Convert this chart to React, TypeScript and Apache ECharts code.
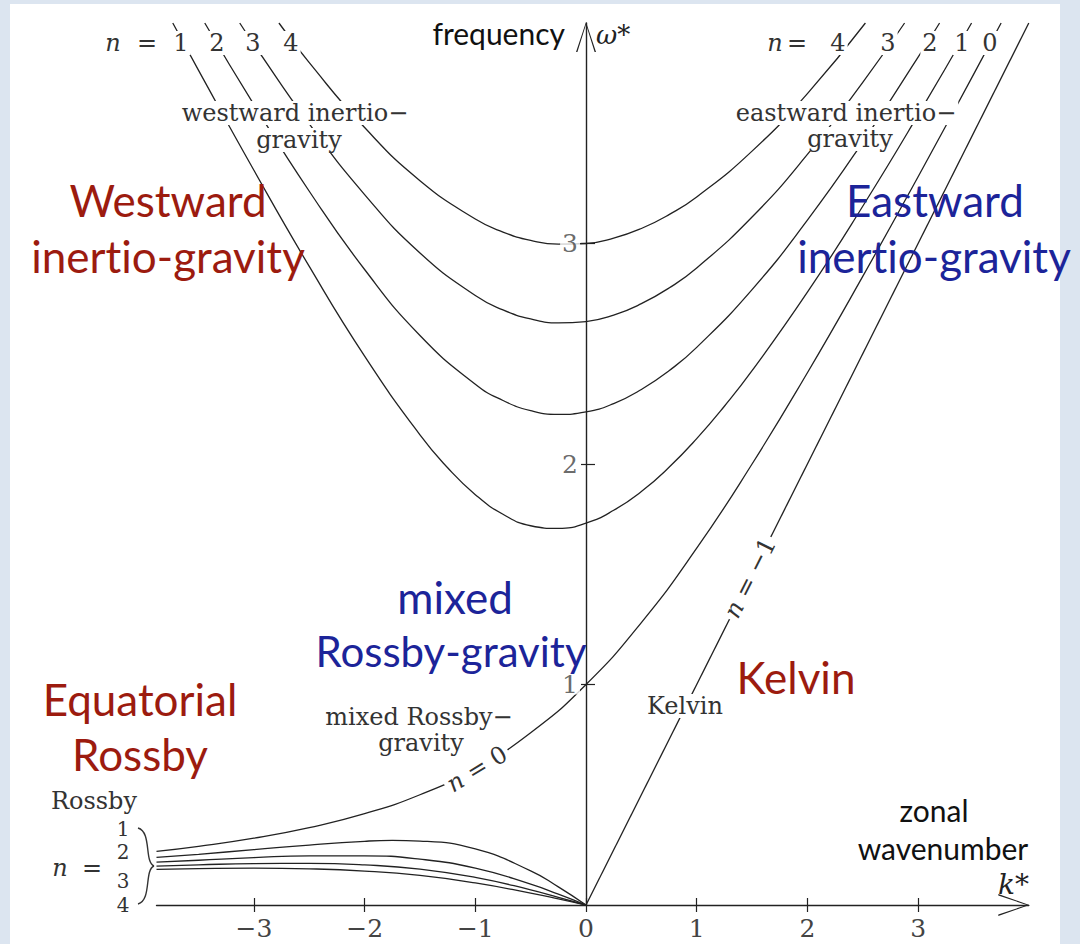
import React, { useEffect, useRef } from 'react';
import * as echarts from 'echarts';

// ---- data: [k*, omega*] ----
const inertioGravityN1 = [[-3.733, 4.0], [-3.5, 3.785], [-3, 3.332], [-2.5, 2.896], [-2, 2.489], [-1.5, 2.132], [-1.25, 1.983], [-1, 1.861], [-0.75, 1.772], [-0.5, 1.72], [-0.25, 1.708], [0, 1.732], [0.25, 1.79], [0.5, 1.875], [0.75, 1.985], [1, 2.115], [1.25, 2.262], [1.5, 2.423], [2, 2.779], [2.5, 3.169], [3, 3.583], [3.483, 4.0]];
const inertioGravityN2 = [[-3.444, 4.0], [-3, 3.63], [-2.5, 3.237], [-2, 2.882], [-1.5, 2.583], [-1, 2.362], [-0.75, 2.288], [-0.5, 2.242], [-0.25, 2.225], [0, 2.236], [0.25, 2.274], [0.5, 2.338], [0.75, 2.423], [1, 2.529], [1.5, 2.791], [2, 3.106], [2.5, 3.46], [3, 3.845], [3.194, 4.0]];
const inertioGravityN3 = [[-3.128, 4.0], [-3, 3.903], [-2.5, 3.542], [-2, 3.222], [-1.5, 2.957], [-1, 2.764], [-0.75, 2.699], [-0.5, 2.658], [-0.25, 2.64], [0, 2.646], [0.25, 2.675], [0.5, 2.727], [0.75, 2.798], [1, 2.889], [1.5, 3.12], [2, 3.404], [2.5, 3.731], [2.878, 4.0]];
const inertioGravityN4 = [[-2.774, 4.0], [-2.5, 3.82], [-2, 3.526], [-1.5, 3.285], [-1, 3.111], [-0.75, 3.052], [-0.5, 3.014], [-0.25, 2.997], [0, 3.0], [0.25, 3.024], [0.5, 3.068], [0.75, 3.131], [1, 3.211], [1.5, 3.419], [2, 3.68], [2.524, 4.0]];
const mixedRossbyGravity = [[-3.88, 0.243], [-3.5, 0.266], [-3, 0.303], [-2.5, 0.351], [-2, 0.414], [-1.5, 0.5], [-1, 0.618], [-0.5, 0.781], [0, 1.0], [0.5, 1.281], [1, 1.618], [1.5, 2.0], [2, 2.414], [2.5, 2.851], [3, 3.303], [3.5, 3.766], [3.75, 4.0]];
const rossbyN1 = [[-3.88, 0.216], [-3.5, 0.23], [-3, 0.251], [-2.5, 0.272], [-2, 0.289], [-1.75, 0.293], [-1.5, 0.29], [-1, 0.254], [-0.5, 0.155], [-0.25, 0.082], [0, 0]];
const rossbyN2 = [[-3.88, 0.194], [-3.5, 0.203], [-3, 0.215], [-2.5, 0.223], [-2, 0.223], [-1.5, 0.208], [-1, 0.167], [-0.5, 0.095], [-0.25, 0.049], [0, 0]];
const rossbyN3 = [[-3.88, 0.176], [-3.5, 0.182], [-3, 0.188], [-2.5, 0.189], [-2, 0.182], [-1.5, 0.163], [-1, 0.125], [-0.5, 0.069], [-0.25, 0.035], [0, 0]];
const rossbyN4 = [[-3.88, 0.162], [-3.5, 0.165], [-3, 0.167], [-2.5, 0.164], [-2, 0.154], [-1.5, 0.134], [-1, 0.1], [-0.5, 0.054], [-0.25, 0.028], [0, 0]];
const kelvin = [[0, 0], [4, 4]];

const xTicks = [-3, -2, -1, 0, 1, 2, 3];
const yTicks = [1, 2, 3];
const xRange = [-3.88, 4.0];
const yRange = [0, 4.0];

const SERIF = '"DejaVu Serif", serif';
const SANS = 'Lato, "Open Sans", sans-serif';
const RED = '#9c1b0f';
const BLUE = '#1c2499';
const INK = '#222';
const LABEL = '#333';
const ZWNJ = '\u200C';

const ARROW_Y = 'path://M10,0 L20,30 L18.6,30 L10,2.6 L1.4,30 L0,30 Z';
const ARROW_X = 'path://M11,0 L22,31 L20.6,31 L11,2.6 L1.4,31 L0,31 Z';

function serifLabel(text: string, x: number, y: number, extra: any = {}) {
  return {
    type: 'text', x, y, z: 100, rotation: extra.rotation || 0,
    style: {
      text, fill: LABEL, font: `${extra.italic ? 'italic ' : ''}${extra.size || 24}px ${SERIF}`,
      align: extra.align || 'center', verticalAlign: 'middle',
      backgroundColor: extra.noBg ? undefined : '#fff', padding: extra.padding || [0, 2],
      rich: extra.rich,
    },
  };
}

function sansLabel(text: string, x: number, y: number, color: string, size = 44, align = 'center') {
  return {
    type: 'text', x, y, z: 90,
    style: { text, fill: color, font: `${size}px ${SANS}`, align, verticalAlign: 'middle' },
  };
}

const italicRich = { i: { font: `italic 24px ${SERIF}`, fill: LABEL } };

function curve(name: string, data: number[][]) {
  return {
    name, type: 'line', data, showSymbol: false, smooth: true, silent: true,
    lineStyle: { color: INK, width: 1.3 }, z: 2, animation: false,
  };
}

export default function App() {
  const ref = useRef<HTMLDivElement>(null);
  useEffect(() => {
    if (!ref.current) return;
    const chart = echarts.init(ref.current, null, { renderer: 'svg' });
    const option: any = {
      animation: false,
      backgroundColor: 'transparent',
      grid: { left: 156.5, right: 51.2, top: 23, bottom: 39, containLabel: false },
      xAxis: [
        {
          type: 'value', min: xRange[0], max: xRange[1], position: 'bottom',
          axisLine: { show: true, onZero: false, lineStyle: { color: INK, width: 1.4 }, symbol: ['none', ARROW_X], symbolSize: [22, 31], symbolOffset: [0, -15] },
          axisTick: { show: true, customValues: xTicks, length: 7, lineStyle: { color: INK, width: 1.2 } },
          axisLabel: {
            show: true, customValues: xTicks, margin: 11, color: '#444', fontFamily: SERIF, fontSize: 25,
            formatter: (v: number) => (v < 0 ? '\u2212' + Math.abs(v) : String(v)),
          },
          splitLine: { show: false },
        },
        {
          type: 'value', min: xRange[0], max: xRange[1], position: 'bottom',
          axisLine: { show: false, onZero: false },
          axisTick: { show: true, inside: true, customValues: xTicks, length: 7, lineStyle: { color: INK, width: 1.2 } },
          axisLabel: { show: false },
          splitLine: { show: false },
        },
      ],
      yAxis: [
        {
          type: 'value', min: yRange[0], max: yRange[1], position: 'left',
          axisLine: { show: true, onZero: true, lineStyle: { color: INK, width: 1.4 }, symbol: ['none', ARROW_Y], symbolSize: [20, 30], symbolOffset: [0, -14] },
          axisTick: { show: true, customValues: yTicks, length: 5, lineStyle: { color: INK, width: 1.2 } },
          axisLabel: { show: false },
          splitLine: { show: false },
        },
        {
          type: 'value', min: yRange[0], max: yRange[1], position: 'left',
          axisLine: { show: false, onZero: true },
          axisTick: { show: true, inside: true, customValues: yTicks, length: 9, lineStyle: { color: INK, width: 1.2 } },
          axisLabel: { show: false },
          splitLine: { show: false },
        },
      ],
      series: [
        curve('inertio-gravity n=1', inertioGravityN1),
        curve('inertio-gravity n=2', inertioGravityN2),
        curve('inertio-gravity n=3', inertioGravityN3),
        curve('inertio-gravity n=4', inertioGravityN4),
        curve('mixed Rossby-gravity n=0', mixedRossbyGravity),
        curve('Rossby n=1', rossbyN1),
        curve('Rossby n=2', rossbyN2),
        curve('Rossby n=3', rossbyN3),
        curve('Rossby n=4', rossbyN4),
        { ...curve('Kelvin n=-1', kelvin), smooth: false },
        {
          name: 'frequency ticks', type: 'scatter', silent: true, symbolSize: 0,
          data: yTicks.map((v) => [0, v]),
          label: {
            show: true, position: 'left', distance: 6, color: '#444', fontFamily: SERIF, fontSize: 25,
            lineHeight: 20, backgroundColor: '#fff', padding: [0, 2],
            formatter: (p: any) => String(p.value[1]),
          },
          z: 5,
        },
      ],
      graphic: [
        // small serif labels (white background interrupts the curves)
        serifLabel('westward inertio\u2212', 295, 113),
        serifLabel('gravity', 299, 140),
        serifLabel('eastward inertio\u2212', 846, 113),
        serifLabel('gravity', 850, 139),
        serifLabel('mixed Rossby\u2212', 419, 717),
        serifLabel('gravity', 421, 743),
        serifLabel('Kelvin', 685, 706),
        serifLabel('Rossby', 94, 801, { noBg: true }),
        serifLabel('n', 113, 43, { italic: true, noBg: true }),
        serifLabel('=', 147, 43, { noBg: true }),
        serifLabel('1', 181, 43),
        serifLabel('2', 217, 43),
        serifLabel('3', 253, 43),
        serifLabel('4', 291, 43),
        serifLabel('n', 775, 43, { italic: true, noBg: true }),
        serifLabel('=', 797, 43, { noBg: true }),
        serifLabel('4', 838, 43),
        serifLabel('3', 888, 43),
        serifLabel('2', 930, 43),
        serifLabel('1', 962, 43),
        serifLabel('0', 990, 43),
        serifLabel('{i|n} = 0', 477, 769, { rich: italicRich, rotation: 0.545, padding: [0, 3] }),
        serifLabel('{i|n} = \u22121', 750, 578, { rich: italicRich, rotation: 1.105, padding: [0, 3] }),
        // Rossby n stack
        serifLabel('n', 60, 868, { italic: true, noBg: true }),
        serifLabel('=', 92, 868, { noBg: true }),
        serifLabel('1', 123, 829, { noBg: true, size: 20 }),
        serifLabel('2', 123, 852, { noBg: true, size: 20 }),
        serifLabel('3', 123, 881, { noBg: true, size: 20 }),
        serifLabel('4', 123, 905, { noBg: true, size: 20 }),
        { type: 'bezierCurve', z: 100, shape: { x1: 138, y1: 828, cpx1: 152, cpy1: 832, cpx2: 144, cpy2: 862, x2: 154, y2: 866 }, style: { stroke: '#333', lineWidth: 1.4, fill: null } },
        { type: 'bezierCurve', z: 100, shape: { x1: 154, y1: 866, cpx1: 144, cpy1: 870, cpx2: 152, cpy2: 900, x2: 138, y2: 904 }, style: { stroke: '#333', lineWidth: 1.4, fill: null } },
        // axis titles
        sansLabel('frequency', 565, 33, '#111', 30, 'right'),
        { type: 'text', x: 596, y: 35, z: 100, style: { text: '\u03c9*', fill: '#222', font: `italic 26px ${SERIF}`, align: 'left', verticalAlign: 'middle' } },
        sansLabel('zonal', 934, 810, '#111', 30),
        sansLabel('wavenumber', 943, 848, '#111', 30),
        { type: 'text', x: 998, y: 884, z: 100, style: { text: 'k*', fill: '#222', font: `italic 28px ${SERIF}`, align: 'left', verticalAlign: 'middle' } },
        // large coloured labels
        sansLabel('Westward', 168, 200, RED),
        sansLabel(`inert${ZWNJ}io-gravity`, 168, 256, RED),
        sansLabel('Eastward', 935, 200, BLUE),
        sansLabel(`inert${ZWNJ}io-gravity`, 934, 256, BLUE),
        sansLabel('mixed', 455, 597, BLUE),
        sansLabel('Rossby-gravity', 451, 651, BLUE, 42),
        sansLabel('Equatorial', 140, 699, RED),
        sansLabel('Rossby', 140, 754, RED),
        sansLabel('Kelvin', 796, 677, RED),
      ],
    };
    chart.setOption(option);
    return () => chart.dispose();
  }, []);

  return (
    <div style={{ position: 'fixed', left: 0, top: 0, width: 1080, height: 944, background: '#dce5f0', overflow: 'hidden' }}>
      <div style={{ position: 'absolute', left: 10, top: 4, width: 1050, height: 940, background: '#fff' }} />
      <div ref={ref} style={{ position: 'absolute', left: 0, top: 0, width: 1080, height: 944 }} />
    </div>
  );
}
